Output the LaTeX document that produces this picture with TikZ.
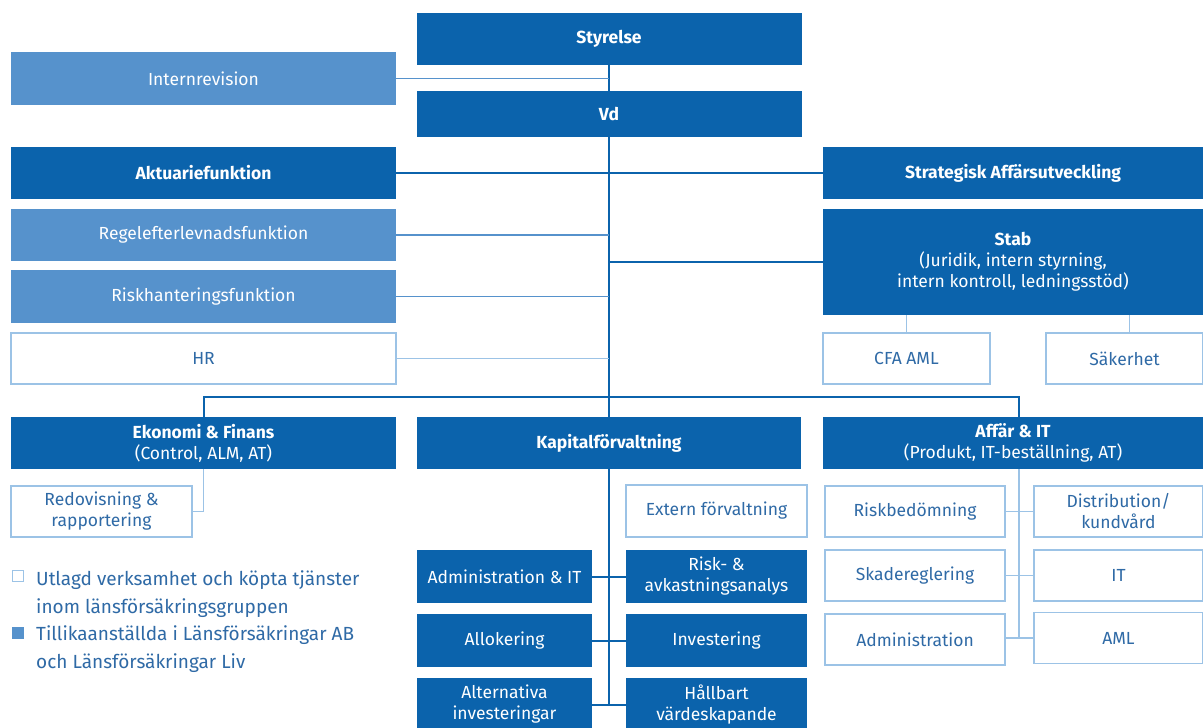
\documentclass[tikz,border=0pt]{standalone}
\usepackage{fontspec}
\setmainfont{Fira Sans}
\usetikzlibrary{positioning}
\definecolor{lfdark}{HTML}{0B63AC}
\definecolor{lflight}{HTML}{5692CC}
\definecolor{lfedge}{HTML}{9CC3E6}
\definecolor{lftext}{HTML}{2F6AA6}

\tikzset{
  box/.style={inner sep=0pt, align=center, font=\fontsize{17.5}{21}\selectfont},
  darkbox/.style={box, fill=lfdark, text=white},
  lightbox/.style={box, fill=lflight, text=white},
  openbox/.style={box, draw=lfedge, line width=1.6pt, fill=white, text=lftext},
  wide/.style={minimum width=385pt, minimum height=52pt},
  half/.style={minimum width=181pt, minimum height=52pt},
  link/.style={draw=lfdark, line width=2pt},
  softlink/.style={draw=lflight, line width=1.6pt},
  palelink/.style={draw=lfedge, line width=1.6pt},
  legendtext/.style={inner sep=0pt, align=left, text=lftext, font=\fontsize{19}{28}\selectfont},
}

\begin{document}
\begin{tikzpicture}[x=1pt, y=-1pt]

    \useasboundingbox[fill=white] (0,0) rectangle (1203,728);

    % Define nodes
    \node[darkbox, wide]                     (styrelse) at (609,39)   {\textbf{Styrelse}};
    \node[lightbox, wide, minimum height=53pt] (internrev) at (203.5,78.5) {Internrevision};
    \node[darkbox, wide, minimum height=46pt]  (vd)       at (609,114)  {\textbf{Vd}};

    \node[darkbox, wide]                     (aktuarie)   at (203.5,173) {\textbf{Aktuariefunktion}};
    \node[darkbox, wide, minimum width=380pt] (strategisk) at (1013,173) {\textbf{Strategisk Affärsutveckling}};
    \node[lightbox, wide]                    (regel)      at (203.5,235) {Regelefterlevnadsfunktion};
    \node[darkbox, wide, minimum width=380pt, minimum height=106pt] (stab) at (1013,262)
        {\textbf{Stab}\\(Juridik, intern styrning,\\intern kontroll, ledningsstöd)};
    \node[lightbox, wide, minimum height=53pt] (riskh)    at (203.5,296.5) {Riskhanteringsfunktion};
    \node[openbox, wide, minimum height=51pt]  (hr)       at (203.5,358.5) {HR};
    \node[openbox, half, minimum width=167pt, minimum height=51pt] (cfa) at (906.5,358.5) {CFA AML};
    \node[openbox, half, minimum width=157pt, minimum height=51pt] (sakerhet) at (1124.5,358.5) {Säkerhet};

    \node[darkbox, wide]                     (ekonomi) at (203.5,443) {\textbf{Ekonomi \& Finans}\\(Control, ALM, AT)};
    \node[darkbox, wide, minimum width=384pt] (kapital) at (609,443)   {\textbf{Kapitalförvaltning}};
    \node[darkbox, wide, minimum width=380pt] (affar)   at (1013,443)  {\textbf{Affär \& IT}\\(Produkt, IT-beställning, AT)};

    \node[openbox, half, minimum height=51pt] (redov)  at (101.5,511.5) {Redovisning \&\\rapportering};

    \node[openbox, half]                      (extern)   at (716.5,511)   {Extern förvaltning};
    \node[darkbox, half, minimum width=175pt, minimum height=53pt] (admit) at (504.5,576.5) {Administration \& IT};
    \node[darkbox, half, minimum height=53pt] (riskavk)  at (716.5,576.5) {Risk- \&\\avkastningsanalys};
    \node[darkbox, half, minimum width=175pt, minimum height=53pt] (allok) at (504.5,640.5) {Allokering};
    \node[darkbox, half, minimum height=53pt] (invest)   at (716.5,640.5) {Investering};
    \node[darkbox, half, minimum width=175pt, minimum height=53pt] (altinv) at (504.5,704.5) {Alternativa\\investeringar};
    \node[darkbox, half, minimum height=53pt] (hallbart) at (716.5,704.5) {Hållbart\\värdeskapande};

    \node[openbox, half, minimum width=180pt, minimum height=51pt] (riskbed) at (915,511.5) {Riskbedömning};
    \node[openbox, half, minimum width=180pt, minimum height=51pt] (skade)   at (915,575.5) {Skadereglering};
    \node[openbox, half, minimum width=180pt, minimum height=51pt] (admin)   at (915,639.5) {Administration};
    \node[openbox, half, minimum width=169pt, minimum height=51pt] (distr)   at (1118.5,511.5) {Distribution/\\kundvård};
    \node[openbox, half, minimum width=169pt, minimum height=51pt] (itbox)   at (1118.5,575.5) {IT};
    \node[openbox, half, minimum width=169pt, minimum height=51pt] (aml)     at (1118.5,638) {AML};

    % Legend
    \node[draw=lfedge, line width=1.4pt, minimum size=11pt, inner sep=0pt] (legopen) at (18,576) {};
    \node[legendtext, anchor=west] (legopentext) at (36,594)
        {Utlagd verksamhet och köpta tjänster\\inom länsförsäkringsgruppen};
    \node[fill=lflight, minimum size=12pt, inner sep=0pt] (legfill) at (18,633) {};
    \node[legendtext, anchor=west] (legfilltext) at (36,649)
        {Tillikaanställda i Länsförsäkringar AB\\och Länsförsäkringar Liv};
    \coordinate (bus) at (609,397);
    \coordinate (ajoin) at (1019,397);

    % Connect the nodes
    \draw[link] (styrelse.south) -- (vd.north);
    \draw[softlink] (internrev.east) -- (internrev.east -| styrelse.south);
    \draw[link] (vd.south) -- (kapital.north);
    \draw[link] (aktuarie.east) -- (strategisk.west);
    \draw[softlink] (regel.east) -- (regel.east -| vd.south);
    \draw[link] (stab.west) -- (stab.west -| vd.south);
    \draw[softlink] (riskh.east) -- (riskh.east -| vd.south);
    \draw[palelink] (hr.east) -- (hr.east -| vd.south);
    \draw[palelink] (cfa.north) -- (cfa.north |- stab.south);
    \draw[palelink] ([xshift=5pt]sakerhet.north) -- ([xshift=5pt]sakerhet.north |- stab.south);

    \draw[link] (ekonomi.north) |- (bus) -| (ajoin |- affar.north);
    \draw[palelink] (ekonomi.south) |- (redov.east);

    \draw[link] (kapital.south) -- (kapital.south |- hallbart.west);
    \draw[link] (admit.east) -- (riskavk.west);
    \draw[link] (allok.east) -- (invest.west);
    \draw[link] (altinv.east) -- (hallbart.west);

    \draw[palelink] (ajoin |- affar.south) -- (ajoin |- aml.west);
    \draw[palelink] (riskbed.east) -- (distr.west);
    \draw[palelink] (skade.east) -- (itbox.west);
    \draw[palelink] (admin.east |- aml.west) -- (aml.west);

\end{tikzpicture}
\end{document}
